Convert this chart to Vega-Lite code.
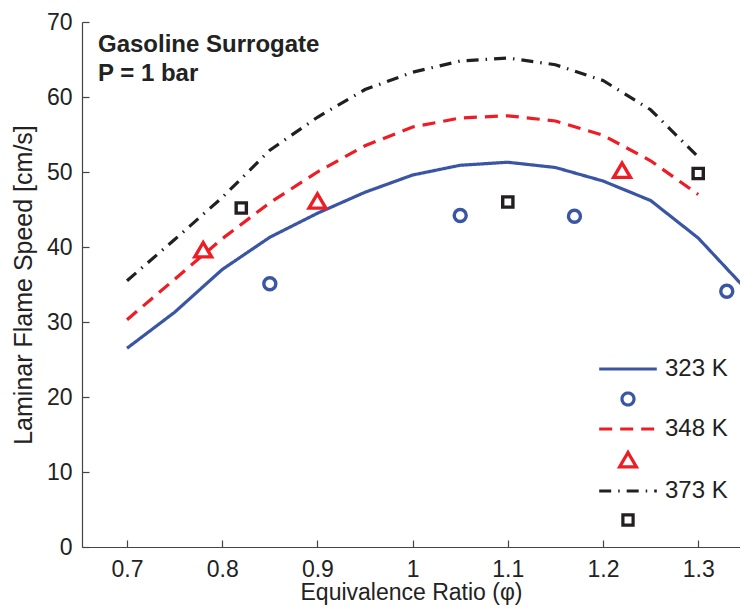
{
  "$schema": "https://vega.github.io/schema/vega-lite/v6.json",
  "width": 658,
  "height": 525,
  "autosize": {"type": "none"},
  "padding": {"left": 82, "top": 22, "right": 0, "bottom": 61},
  "background": "white",
  "config": {
    "view": {"stroke": null},
    "font": "Liberation Sans",
    "axis": {
      "domainColor": "#444444",
      "domainWidth": 1.2,
      "tickColor": "#444444",
      "tickWidth": 1.2,
      "tickSize": -7,
      "grid": false,
      "labelFont": "Liberation Sans",
      "labelFontSize": 23,
      "labelColor": "#222222",
      "titleFont": "Liberation Sans",
      "titleFontSize": 24,
      "titleFontWeight": "normal",
      "titleColor": "#222222"
    }
  },
  "datasets": {
    "model": [
      {"phi": 0.70, "speed": 26.5, "series": "323 K"},
      {"phi": 0.75, "speed": 31.3, "series": "323 K"},
      {"phi": 0.80, "speed": 37.0, "series": "323 K"},
      {"phi": 0.85, "speed": 41.3, "series": "323 K"},
      {"phi": 0.90, "speed": 44.5, "series": "323 K"},
      {"phi": 0.95, "speed": 47.3, "series": "323 K"},
      {"phi": 1.00, "speed": 49.6, "series": "323 K"},
      {"phi": 1.05, "speed": 50.9, "series": "323 K"},
      {"phi": 1.10, "speed": 51.3, "series": "323 K"},
      {"phi": 1.15, "speed": 50.6, "series": "323 K"},
      {"phi": 1.20, "speed": 48.8, "series": "323 K"},
      {"phi": 1.25, "speed": 46.2, "series": "323 K"},
      {"phi": 1.30, "speed": 41.2, "series": "323 K"},
      {"phi": 1.35, "speed": 34.4, "series": "323 K"},
      {"phi": 0.70, "speed": 30.3, "series": "348 K"},
      {"phi": 0.75, "speed": 35.7, "series": "348 K"},
      {"phi": 0.80, "speed": 41.1, "series": "348 K"},
      {"phi": 0.85, "speed": 45.9, "series": "348 K"},
      {"phi": 0.90, "speed": 50.0, "series": "348 K"},
      {"phi": 0.95, "speed": 53.5, "series": "348 K"},
      {"phi": 1.00, "speed": 56.0, "series": "348 K"},
      {"phi": 1.05, "speed": 57.2, "series": "348 K"},
      {"phi": 1.10, "speed": 57.5, "series": "348 K"},
      {"phi": 1.15, "speed": 56.8, "series": "348 K"},
      {"phi": 1.20, "speed": 54.9, "series": "348 K"},
      {"phi": 1.25, "speed": 51.5, "series": "348 K"},
      {"phi": 1.30, "speed": 47.0, "series": "348 K"},
      {"phi": 0.70, "speed": 35.5, "series": "373 K"},
      {"phi": 0.75, "speed": 41.0, "series": "373 K"},
      {"phi": 0.80, "speed": 46.6, "series": "373 K"},
      {"phi": 0.85, "speed": 52.9, "series": "373 K"},
      {"phi": 0.90, "speed": 57.3, "series": "373 K"},
      {"phi": 0.95, "speed": 61.0, "series": "373 K"},
      {"phi": 1.00, "speed": 63.3, "series": "373 K"},
      {"phi": 1.05, "speed": 64.8, "series": "373 K"},
      {"phi": 1.10, "speed": 65.2, "series": "373 K"},
      {"phi": 1.15, "speed": 64.3, "series": "373 K"},
      {"phi": 1.20, "speed": 62.2, "series": "373 K"},
      {"phi": 1.25, "speed": 58.3, "series": "373 K"},
      {"phi": 1.30, "speed": 52.0, "series": "373 K"}
    ],
    "exp": [
      {"phi": 0.85, "speed": 35.1, "series": "323 K data"},
      {"phi": 1.05, "speed": 44.2, "series": "323 K data"},
      {"phi": 1.17, "speed": 44.1, "series": "323 K data"},
      {"phi": 1.33, "speed": 34.1, "series": "323 K data"},
      {"phi": 0.78, "speed": 39.6, "series": "348 K data"},
      {"phi": 0.90, "speed": 46.1, "series": "348 K data"},
      {"phi": 1.22, "speed": 50.2, "series": "348 K data"},
      {"phi": 0.82, "speed": 45.2, "series": "373 K data"},
      {"phi": 1.10, "speed": 46.0, "series": "373 K data"},
      {"phi": 1.30, "speed": 49.8, "series": "373 K data"}
    ],
    "note": [
      {"line1": "Gasoline Surrogate", "line2": "P = 1 bar"}
    ]
  },
  "layer": [
    {
      "data": {"name": "model"},
      "mark": {"type": "line", "strokeWidth": 3.2, "clip": true},
      "encoding": {
        "x": {
          "field": "phi",
          "type": "quantitative",
          "scale": {"domain": [0.6527, 1.3439], "nice": false, "zero": false},
          "axis": {
            "title": "Equivalence Ratio (φ)",
            "values": [0.7, 0.8, 0.9, 1.0, 1.1, 1.2, 1.3],
            "labelExpr": "datum.value == 1 ? '1' : format(datum.value, '.1f')",
            "labelPadding": 18,
            "titlePadding": 0,
            "titleFontSize": 23
          }
        },
        "y": {
          "field": "speed",
          "type": "quantitative",
          "scale": {"domain": [0, 70], "nice": false},
          "axis": {
            "title": "Laminar Flame Speed [cm/s]",
            "values": [0, 10, 20, 30, 40, 50, 60, 70],
            "labelPadding": 17,
            "titlePadding": 10,
            "titleFontSize": 25
          }
        },
        "color": {
          "field": "series",
          "type": "nominal",
          "scale": {
            "domain": ["323 K", "323 K data", "348 K", "348 K data", "373 K", "373 K data"],
            "range": ["#3a55a4", "#3a55a4", "#ee1c24", "#ee1c24", "#231f20", "#231f20"]
          },
          "legend": {
            "title": null,
            "orient": "none",
            "legendX": 534,
            "legendY": 335,
            "labelFont": "Liberation Sans",
            "labelFontSize": 24,
            "labelColor": "#222222",
            "labelOffset": 25,
            "rowPadding": 5,
            "symbolStrokeWidth": 3.2,
            "symbolFillColor": "transparent",
            "symbolSize": 144,
            "labelExpr": "indexof(datum.label, 'data') >= 0 ? '' : datum.label"
          }
        },
        "strokeDash": {
          "field": "series",
          "type": "nominal",
          "scale": {
            "domain": ["323 K", "323 K data", "348 K", "348 K data", "373 K", "373 K data"],
            "range": [[1, 0], [1, 0], [13, 8], [1, 0], [12, 7, 1.5, 7], [1, 0]]
          },
          "legend": null
        }
      }
    },
    {
      "data": {"name": "exp"},
      "mark": {"type": "point", "filled": false, "strokeWidth": 3.4, "size": 144, "opacity": 1, "clip": true},
      "encoding": {
        "x": {"field": "phi", "type": "quantitative"},
        "y": {"field": "speed", "type": "quantitative"},
        "color": {"field": "series", "type": "nominal"},
        "shape": {
          "field": "series",
          "type": "nominal",
          "scale": {
            "domain": ["323 K", "323 K data", "348 K", "348 K data", "373 K", "373 K data"],
            "range": [
              "M-4.8,0H4.8",
              "M1,0A1,1 0 1,1 -1,0A1,1 0 1,1 1,0Z",
              "M-4.8,0H4.8",
              "M0,-1.25L1.4,1.15L-1.4,1.15Z",
              "M-4.8,0H4.8",
              "M-0.85,-0.85H0.85V0.85H-0.85Z"
            ]
          },
          "legend": null
        }
      }
    },
    {
      "data": {"name": "note"},
      "mark": {"type": "text", "align": "left", "baseline": "alphabetic", "fontWeight": "bold", "fontSize": 24, "font": "Liberation Sans", "color": "#222222"},
      "encoding": {
        "x": {"datum": 0.6695},
        "y": {"datum": 66},
        "text": {"field": "line1"}
      }
    },
    {
      "data": {"name": "note"},
      "mark": {"type": "text", "align": "left", "baseline": "alphabetic", "fontWeight": "bold", "fontSize": 24, "font": "Liberation Sans", "color": "#222222"},
      "encoding": {
        "x": {"datum": 0.6695},
        "y": {"datum": 62.1},
        "text": {"field": "line2"}
      }
    }
  ]
}
